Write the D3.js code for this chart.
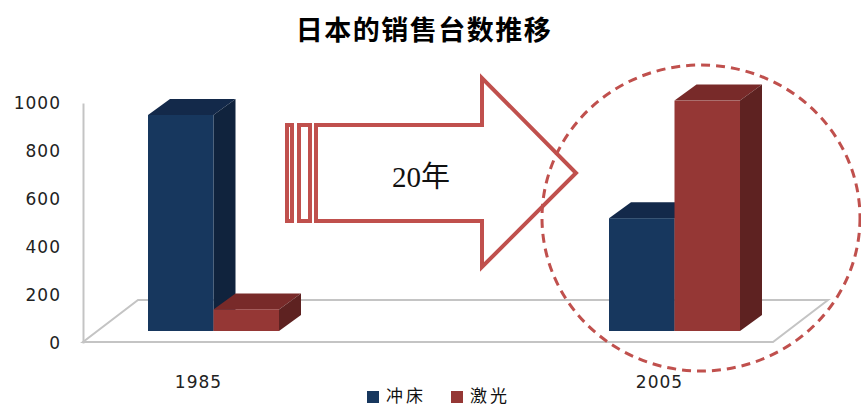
<!DOCTYPE html>
<html>
<head>
<meta charset="utf-8">
<script src="https://cdn.jsdelivr.net/npm/d3@7"></script>
<style>
  body { margin: 0; background: #fff; }
  svg { display: block; }
</style>
</head>
<body>
<div id="chart"></div>
<script>
// 数据
var years = ["1985", "2005"];
var seriesNames = ["冲床", "激光"];
var punchValues = [900, 470];   // 冲床
var laserValues = [90, 960];    // 激光
var yTicks = [0, 200, 400, 600, 800, 1000];

var width = 861,
    height = 407;

// 柱子颜色 (正面, 顶面, 侧面)
var faceColors = [["#17375e", "#13294a", "#10233d"], ["#953735", "#782a29", "#5e2221"]];

var depthX = 22, depthY = -16;     // 柱子纵深
var floorX = 55, floorY = -42;     // 底面纵深
var barLift = 12;                  // 柱子前面离底面前沿的距离

var svg = d3.select("#chart")
    .append("svg")
    .attr("width", width)
    .attr("height", height);

// 标题
svg.append("text")
    .attr("x", 424)
    .attr("y", 40)
    .attr("text-anchor", "middle")
    .style("font-family", "'Noto Sans CJK SC'")
    .style("font-weight", "bold")
    .style("font-size", "27px")
    .style("letter-spacing", "1.5px")
    .text("日本的销售台数推移");

var y = d3.scaleLinear()
    .domain([0, 1000])
    .range([343, 103]);

var x = d3.scalePoint()
    .domain(years)
    .range([213.5, 674.5]);

var inner = d3.scaleBand()
    .domain(seriesNames)
    .range([-65.5, 65.5]);

// 底面
var fx0 = 83, fx1 = 773, fy = y(0) - 1;
svg.append("path")
    .attr("d", "M" + fx0 + "," + fy + "L" + fx1 + "," + fy +
        "L" + (fx1 + floorX) + "," + (fy + floorY) +
        "L" + (fx0 + floorX) + "," + (fy + floorY) + "Z")
    .attr("fill", "#fff")
    .attr("stroke", "#c4c4c4")
    .attr("stroke-width", 2);

// y 轴
var yAxis = svg.append("g")
    .attr("transform", "translate(" + fx0 + ",0)")
    .call(d3.axisLeft(y).tickValues(yTicks).tickFormat(d3.format("d")).tickSize(0).tickPadding(22));
yAxis.select(".domain").attr("stroke", "#c4c4c4").attr("stroke-width", 2);
yAxis.selectAll("text")
    .style("font-family", "'DejaVu Sans'")
    .style("font-size", "17px")
    .style("letter-spacing", "1px")
    .attr("fill", "#222");

// 柱子
var rows = [];
years.forEach(function (yr, i) {
    rows.push({ year: yr, series: seriesNames[0], value: punchValues[i], c: 0 });
    rows.push({ year: yr, series: seriesNames[1], value: laserValues[i], c: 1 });
});

var base = y(0) - barLift;

var bars = svg.selectAll("g.bar")
    .data(rows)
    .enter().append("g")
    .attr("class", "bar");

function pts(arr) {
    return arr.map(function (p) { return p.join(","); }).join(" ");
}

bars.each(function (d) {
    var g = d3.select(this);
    var x0 = x(d.year) + inner(d.series);
    var x1 = x0 + inner.bandwidth();
    var top = base - (y(0) - y(d.value));
    var col = faceColors[d.c];
    // 顶面
    g.append("polygon")
        .attr("points", pts([[x0, top], [x1, top], [x1 + depthX, top + depthY], [x0 + depthX, top + depthY]]))
        .attr("fill", col[1]);
    // 侧面
    g.append("polygon")
        .attr("points", pts([[x1, top], [x1 + depthX, top + depthY], [x1 + depthX, base + depthY], [x1, base]]))
        .attr("fill", col[2]);
    // 正面
    g.append("rect")
        .attr("x", x0)
        .attr("y", top)
        .attr("width", x1 - x0)
        .attr("height", base - top)
        .attr("fill", col[0]);
});

// 类别标签
svg.selectAll("text.cat")
    .data(years)
    .enter().append("text")
    .attr("class", "cat")
    .attr("x", function (d) { return x(d) - 15; })
    .attr("y", 388)
    .attr("text-anchor", "middle")
    .style("font-family", "'DejaVu Sans'")
    .style("font-size", "17px")
    .style("letter-spacing", "1px")
    .attr("fill", "#222")
    .text(function (d) { return d; });

// 图例
var legendX = [367, 451];
var legend = svg.selectAll("g.legend")
    .data(seriesNames)
    .enter().append("g")
    .attr("class", "legend")
    .attr("transform", function (d, i) { return "translate(" + legendX[i] + ",391)"; });
legend.append("rect")
    .attr("width", 12)
    .attr("height", 12)
    .attr("fill", function (d, i) { return faceColors[i][0]; });
legend.append("text")
    .attr("x", 19)
    .attr("y", 11)
    .style("font-family", "'Noto Sans CJK SC'")
    .style("font-size", "17px")
    .style("letter-spacing", "3px")
    .attr("fill", "#111")
    .text(function (d) { return d; });

// 箭头
var red = "#c0504d";
svg.append("rect")
    .attr("x", 287).attr("y", 125).attr("width", 5).attr("height", 96)
    .attr("fill", "none").attr("stroke", red).attr("stroke-width", 4);
svg.append("rect")
    .attr("x", 299).attr("y", 125).attr("width", 11).attr("height", 96)
    .attr("fill", "none").attr("stroke", red).attr("stroke-width", 4);
svg.append("path")
    .attr("d", "M316,125H482V78L576,173L482,267V221H316Z")
    .attr("fill", "none")
    .attr("stroke", red)
    .attr("stroke-width", 4)
    .attr("stroke-linejoin", "miter");

var label = svg.append("text")
    .attr("x", 421)
    .attr("y", 187)
    .attr("text-anchor", "middle")
    .attr("fill", "#111")
    .style("font-size", "29px");
label.append("tspan")
    .style("font-family", "'Liberation Serif', 'DejaVu Serif', serif")
    .text("20");
label.append("tspan")
    .style("font-family", "'Noto Sans CJK SC'")
    .text("年");

// 虚线圆
svg.append("ellipse")
    .attr("cx", 701)
    .attr("cy", 218)
    .attr("rx", 159)
    .attr("ry", 153)
    .attr("fill", "none")
    .attr("stroke", red)
    .attr("stroke-width", 3)
    .attr("stroke-dasharray", "9 6");
</script>
</body>
</html>
